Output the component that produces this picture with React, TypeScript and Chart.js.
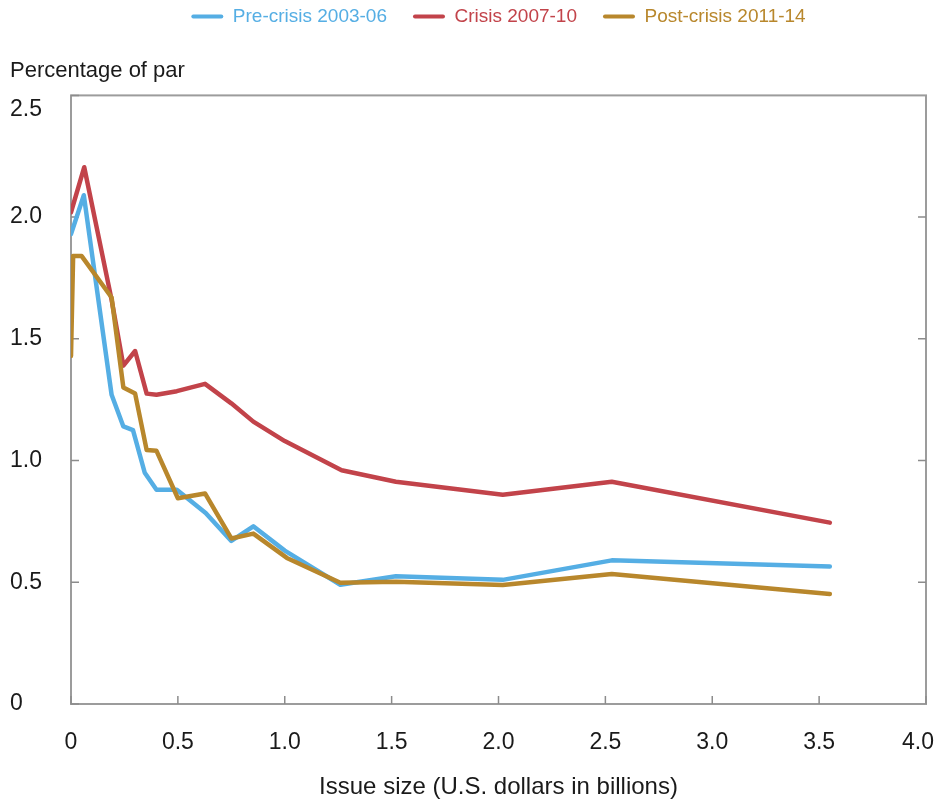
import React, { useEffect, useRef } from "react";
import { Chart, registerables } from "chart.js";

Chart.register(...registerables);

const seriesNames = ["Pre-crisis 2003-06", "Crisis 2007-10", "Post-crisis 2011-14"];
const seriesColors = ["#55AEE4", "#C2434A", "#B8872C"];

// Issue size (U.S. dollars in billions)
const preCrisisX = [0, 0.06, 0.19, 0.245, 0.29, 0.345, 0.4, 0.495, 0.63, 0.75, 0.853, 1.0, 1.26, 1.52, 2.02, 2.53, 3.55];
const preCrisisY = [1.93, 2.09, 1.27, 1.14, 1.125, 0.95, 0.88, 0.88, 0.785, 0.67, 0.73, 0.63, 0.49, 0.525, 0.51, 0.59, 0.565];

const crisisX = [0, 0.062, 0.19, 0.245, 0.3, 0.354, 0.4, 0.495, 0.627, 0.75, 0.853, 1.0, 1.266, 1.52, 2.02, 2.53, 3.55];
const crisisY = [2.02, 2.205, 1.66, 1.39, 1.45, 1.275, 1.27, 1.285, 1.315, 1.235, 1.16, 1.08, 0.96, 0.913, 0.86, 0.913, 0.745];

const postCrisisX = [0, 0.01, 0.05, 0.19, 0.245, 0.3, 0.354, 0.4, 0.5, 0.627, 0.75, 0.853, 1.01, 1.26, 1.52, 2.02, 2.53, 3.55];
const postCrisisY = [1.43, 1.84, 1.84, 1.67, 1.3, 1.275, 1.043, 1.04, 0.845, 0.865, 0.68, 0.7, 0.6, 0.498, 0.502, 0.489, 0.534, 0.452];

const xTickValues = [0, 0.5, 1.0, 1.5, 2.0, 2.5, 3.0, 3.5, 4.0];
const yTickValues = [0, 0.5, 1.0, 1.5, 2.0, 2.5];

const yAxisTitle = "Percentage of par";
const xAxisTitle = "Issue size (U.S. dollars in billions)";

const FONT = "'Liberation Sans', Arial, Helvetica, sans-serif";

const toPoints = (xs: number[], ys: number[]) => xs.map((x, i) => ({ x, y: ys[i] }));
const fmt = (v: number) => (v === 0 ? "0" : v.toFixed(1));

const framePlugin = {
  id: "frameTicks",
  beforeDraw(chart: any) {
    // keep the last x label inside the canvas, as in the reference
    const items = chart.scales.x.getLabelItems();
    const last = items[items.length - 1];
    if (last && !last._shifted) {
      last.options.translation[0] -= 8;
      last._shifted = true;
    }
  },
  beforeDatasetsDraw(chart: any) {
    const { ctx, chartArea: a, scales } = chart;
    const L = 8;
    ctx.save();
    ctx.strokeStyle = "#9c9c9c";
    ctx.lineWidth = 2;
    ctx.strokeRect(a.left, a.top, a.right - a.left, a.bottom - a.top);
    ctx.lineWidth = 1.5;
    ctx.strokeStyle = "#8c8c8c";
    ctx.beginPath();
    yTickValues.forEach((v) => {
      const y = scales.y.getPixelForValue(v);
      ctx.moveTo(a.left, y);
      ctx.lineTo(a.left + L, y);
      if (v > 0 && v < 2.5) {
        ctx.moveTo(a.right, y);
        ctx.lineTo(a.right - L, y);
      }
    });
    xTickValues.forEach((v) => {
      const x = scales.x.getPixelForValue(v);
      ctx.moveTo(x, a.bottom);
      ctx.lineTo(x, a.bottom - L);
    });
    ctx.stroke();
    ctx.restore();
  },
};

export default function App() {
  const canvasRef = useRef<HTMLCanvasElement | null>(null);

  useEffect(() => {
    document.body.style.margin = "0";
    const canvas = canvasRef.current;
    if (!canvas) return;
    const series = [
      toPoints(preCrisisX, preCrisisY),
      toPoints(crisisX, crisisY),
      toPoints(postCrisisX, postCrisisY),
    ];
    const chart = new Chart(canvas, {
      type: "line",
      data: {
        datasets: series.map((data, i) => ({
          label: seriesNames[i],
          data,
          borderColor: seriesColors[i],
          backgroundColor: seriesColors[i],
          borderWidth: 4.5,
          pointRadius: 0,
          pointHoverRadius: 0,
          tension: 0,
          fill: false,
          borderJoinStyle: "round" as const,
          borderCapStyle: "round" as const,
          order: 3 - i,
        })),
      },
      options: {
        animation: false,
        responsive: false,
        devicePixelRatio: 1,
        layout: { padding: { top: -19, left: 10, right: 8, bottom: 0 } },
        plugins: {
          tooltip: { enabled: false },
          legend: {
            display: true,
            position: "top",
            fullSize: false,
            weight: 1000,
            labels: {
              boxWidth: 32,
              boxHeight: 4,
              padding: 26,
              useBorderRadius: true,
              borderRadius: 2,
              font: { family: FONT, size: 19 },
              sort: (a: any, b: any) => a.datasetIndex - b.datasetIndex,
              generateLabels: (ch: any) =>
                ch.data.datasets.map((ds: any, i: number) => ({
                  text: ds.label,
                  fillStyle: seriesColors[i],
                  strokeStyle: seriesColors[i],
                  fontColor: seriesColors[i],
                  lineWidth: 0,
                  hidden: false,
                  datasetIndex: i,
                  borderRadius: 2,
                })),
            },
          },
          title: {
            display: true,
            text: yAxisTitle,
            align: "start",
            position: "top",
            weight: 500,
            color: "#1a1a1a",
            font: { family: FONT, size: 22, weight: "normal" },
            padding: { top: 22, bottom: 11 },
          },
        },
        scales: {
          x: {
            type: "linear",
            min: 0,
            max: 4,
            afterBuildTicks: (s: any) => {
              s.ticks = xTickValues.map((v) => ({ value: v }));
            },
            afterFit: (s: any) => {
              s.height = 100;
              s.paddingLeft = 0;
              s.paddingRight = 0;
            },
            grid: { display: false, drawTicks: false },
            border: { display: false },
            ticks: {
              padding: 25,
              maxRotation: 0,
              autoSkip: false,
              color: "#1a1a1a",
              font: { family: FONT, size: 23 },
              callback: (v: any) => fmt(Number(v)),
            },
            title: {
              display: true,
              text: xAxisTitle,
              color: "#1a1a1a",
              font: { family: FONT, size: 24 },
              padding: { top: 0, bottom: 2 },
            },
          },
          y: {
            type: "linear",
            min: 0,
            max: 2.5,
            afterBuildTicks: (s: any) => {
              s.ticks = yTickValues.map((v) => ({ value: v }));
            },
            afterFit: (s: any) => {
              s.width = 61;
              s.paddingTop = 0;
              s.paddingBottom = 0;
            },
            grid: { display: false, drawTicks: false },
            border: { display: false },
            ticks: {
              crossAlign: "far",
              padding: 0,
              autoSkip: false,
              color: "#1a1a1a",
              font: { family: FONT, size: 23 },
              callback: (v: any) => {
                const n = Number(v);
                return n === 2.5 ? ["", fmt(n)] : fmt(n);
              },
            },
          },
        },
      },
      plugins: [framePlugin],
    } as any);
    return () => chart.destroy();
  }, []);

  return (
    <div style={{ width: 934, height: 804, background: "#fff" }}>
      <canvas ref={canvasRef} width={934} height={804} style={{ display: "block", width: 934, height: 804 }} />
    </div>
  );
}
